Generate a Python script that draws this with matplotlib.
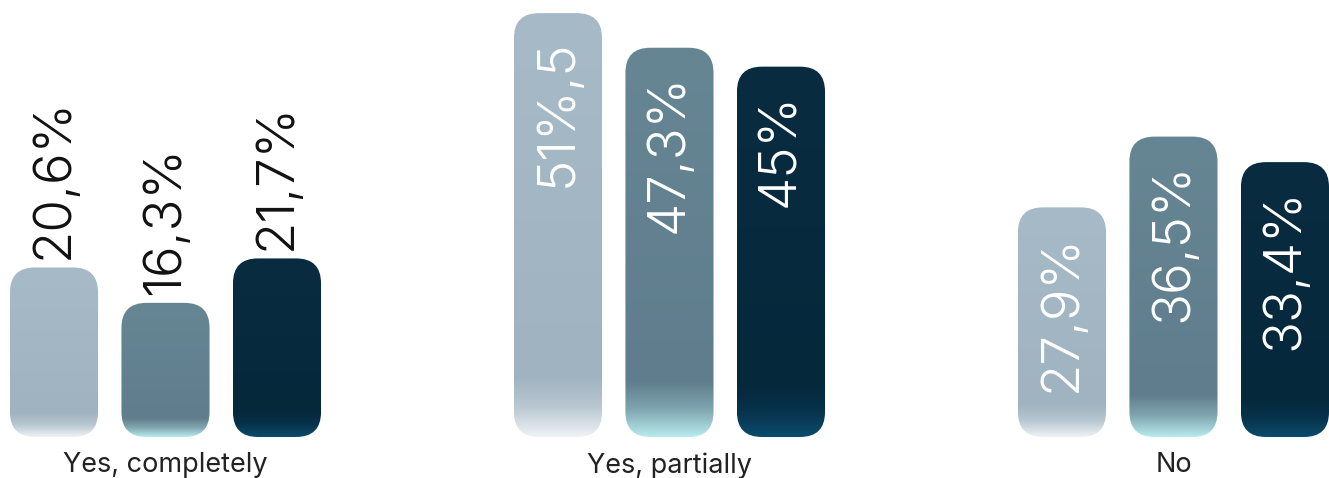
import numpy as np
import matplotlib
matplotlib.use("Agg")
import matplotlib.pyplot as plt
from matplotlib.colors import LinearSegmentedColormap
from matplotlib.patches import FancyBboxPatch

categories = ["Yes, completely", "Yes, partially", "No"]
series_a = [20.6, 51.5, 27.9]
series_b = [16.3, 47.3, 36.5]
series_c = [21.7, 45.0, 33.4]
labels_a = ["20,6%", "51%,5", "27,9%"]
labels_b = ["16,3%", "47,3%", "36,5%"]
labels_c = ["21,7%", "45%", "33,4%"]

series = [series_a, series_b, series_c]
labels = [labels_a, labels_b, labels_c]

# gradient stops (top -> bottom) per series
grad_stops = [
    [(0.0, "#a7bac7"), (0.86, "#a0b3c0"), (0.93, "#b8c7d1"), (1.0, "#eef2f5")],
    [(0.0, "#678694"), (0.86, "#5f7d8c"), (0.93, "#80a5af"), (1.0, "#b6eaec")],
    [(0.0, "#0a2c41"), (0.86, "#05283b"), (0.93, "#07324b"), (1.0, "#0b4b6c")],
]

W, H = 1329, 478
fig = plt.figure(figsize=(W / 100, H / 100), dpi=100)
fig.patch.set_facecolor("white")
bottom_px = 41
ax = fig.add_axes([0, bottom_px / H, 1, 1 - bottom_px / H])
ax.set_axis_off()

px_per_unit_x = 111.5
px_per_val = 8.23
group_gap = 4.52
bar_w = 0.79
top_val = (H - bottom_px) / px_per_val
ax.set_xlim(-54 / px_per_unit_x, -54 / px_per_unit_x + W / px_per_unit_x)
ax.set_ylim(0, top_val)

radius_px = 25
r_x = radius_px / px_per_unit_x
aspect = (1 / px_per_val) / (1 / px_per_unit_x)

val_font = dict(family=["Inter", "DejaVu Sans"], weight=300)
cat_font = dict(family=["Inter", "DejaVu Sans"], weight="normal")

for g, cat in enumerate(categories):
    for j in range(3):
        v = series[j][g]
        xc = g * group_gap + j
        x0 = xc - bar_w / 2
        patch = FancyBboxPatch((x0, 0), bar_w, v,
                               boxstyle=f"round,pad=0,rounding_size={r_x}",
                               mutation_aspect=aspect, linewidth=0,
                               facecolor="none", edgecolor="none")
        ax.add_patch(patch)
        cmap = LinearSegmentedColormap.from_list(f"c{j}", grad_stops[j])
        grad = np.linspace(0, 1, 256).reshape(-1, 1)
        im = ax.imshow(grad, cmap=cmap, aspect="auto", origin="upper",
                       extent=(x0, x0 + bar_w, 0, v), interpolation="bilinear",
                       zorder=2)
        im.set_clip_path(patch)
        txt = labels[j][g]
        if v >= 25:
            ax.annotate(txt, (xc, v), xytext=(0, -19), textcoords="offset points",
                        rotation=90, ha="center", va="top", color="white",
                        fontsize=38, zorder=3, **val_font)
        else:
            ax.annotate(txt, (xc, v), xytext=(0, 6), textcoords="offset points",
                        rotation=90, ha="center", va="bottom", color="#111111",
                        fontsize=38, zorder=3, **val_font)
    ax.annotate(cat, (g * group_gap + 1, 0), xytext=(0, -11), textcoords="offset points",
                ha="center", va="top", color="#222222", fontsize=19.5,
                annotation_clip=False, **cat_font)

fig.savefig("out.png", dpi=100, facecolor="white")
